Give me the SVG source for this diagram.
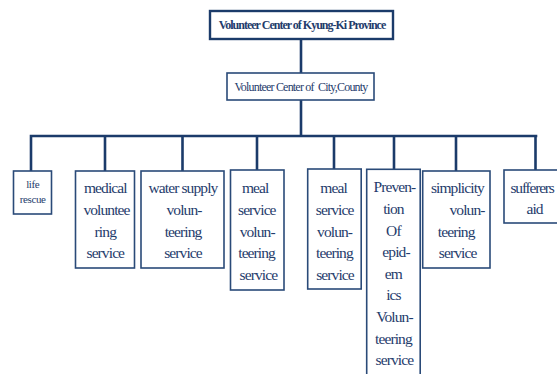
<svg xmlns="http://www.w3.org/2000/svg" width="557" height="374" viewBox="0 0 557 374">
<style>
.bg{fill:#ffffff}
.conn{stroke:#1b3b6a;stroke-width:2.6;fill:none;stroke-linecap:square}
.box{fill:#ffffff;stroke:#2a4a78;stroke-width:1.6}
.top{fill:#ffffff;stroke:#1b3b6a;stroke-width:2.4}
text{font-family:"Liberation Serif","Times New Roman",serif;fill:#1f3c6c;text-anchor:middle}
.t{font-size:15.5px;letter-spacing:-0.9px}
.s{font-size:11px;letter-spacing:-0.4px}
.h1{font-size:12px;font-weight:bold;letter-spacing:-1px}
.h2{font-size:12px;letter-spacing:-0.8px}
</style>
<rect class="bg" x="0" y="0" width="557" height="374"/>
<g id="connectors">
<path class="conn" d="M301 39V73M301 100V136M31 136H536M31 136V171M105 136V171M182.5 136V171M257 136V170M334 136V169M394 136V169M456 136V171M535.5 136V170"/>
</g>
<g id="n-province">
<rect class="top" x="210" y="11" width="183" height="28"/>
<text class="h1" x="302" y="29">Volunteer Center of Kyung-Ki Province</text>
</g>
<g id="n-city">
<rect class="box" x="227" y="73" width="147" height="27"/>
<text class="h2" x="301" y="91" xml:space="preserve">Volunteer Center of  City,County</text>
</g>
<g id="n-life">
<rect class="box" x="13.5" y="171" width="38" height="43"/>
<text class="s" x="32.7" y="188.3">life</text>
<text class="s" x="32.7" y="203.3">rescue</text>
</g>
<g id="n-medical">
<rect class="box" x="75.5" y="171" width="59" height="97"/>
<text class="t" x="105.3" y="193.3">medical</text>
<text class="t" x="106.5" y="215">voluntee</text>
<text class="t" x="105.3" y="236.6">ring</text>
<text class="t" x="105.3" y="258.2">service</text>
</g>
<g id="n-water">
<rect class="box" x="141" y="171" width="83" height="97"/>
<text class="t" x="183" y="193.3">water supply</text>
<text class="t" x="184" y="215">volun-</text>
<text class="t" x="183" y="236.6">teering</text>
<text class="t" x="183" y="258.2">service</text>
</g>
<g id="n-meal1">
<rect class="box" x="230.5" y="170" width="53.5" height="120"/>
<text class="t" x="255.2" y="193.3">meal</text>
<text class="t" x="256.8" y="215">service</text>
<text class="t" x="257.2" y="236.6">volun-</text>
<text class="t" x="256.6" y="258.2">teering</text>
<text class="t" x="258.4" y="279.8">service</text>
</g>
<g id="n-meal2">
<rect class="box" x="307.7" y="169" width="53.5" height="120"/>
<text class="t" x="333.6" y="193.3">meal</text>
<text class="t" x="334.6" y="215">service</text>
<text class="t" x="334.6" y="236.6">volun-</text>
<text class="t" x="334.4" y="258.2">teering</text>
<text class="t" x="335" y="279.8">service</text>
</g>
<g id="n-prevention">
<rect class="box" x="366.7" y="169.3" width="53.5" height="210"/>
<text class="t" x="394.4" y="192.3">Preven-</text>
<text class="t" x="393.4" y="213.9">tion</text>
<text class="t" x="393.4" y="235.5">Of</text>
<text class="t" x="396" y="257.1">epid-</text>
<text class="t" x="393.4" y="278.7">em</text>
<text class="t" x="393.4" y="300.3">ics</text>
<text class="t" x="394.4" y="321.9">Volun-</text>
<text class="t" x="393.4" y="343.5">teering</text>
<text class="t" x="394.4" y="365.1">service</text>
</g>
<g id="n-simplicity">
<rect class="box" x="422.7" y="171" width="67.3" height="97"/>
<text class="t" x="457.4" y="193.3">simplicity</text>
<text class="t" x="467" y="215">volun-</text>
<text class="t" x="456.2" y="236.6">teering</text>
<text class="t" x="457.6" y="258.2">service</text>
</g>
<g id="n-sufferers">
<rect class="box" x="504" y="170" width="64" height="53"/>
<text class="t" x="510.5" y="193.3" style="text-anchor:start;letter-spacing:-1.2px">sufferers</text>
<text class="t" x="534.6" y="214">aid</text>
</g>
</svg>
